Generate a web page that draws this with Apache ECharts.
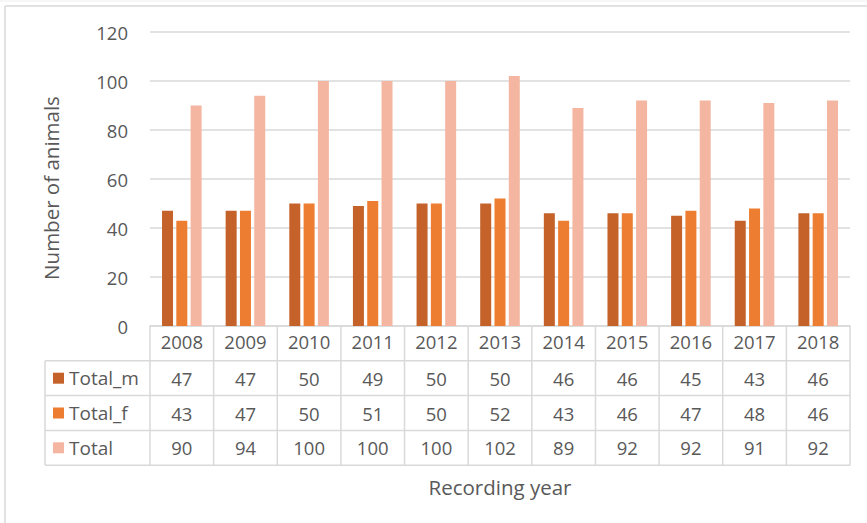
<!DOCTYPE html>
<html>
<head>
<meta charset="utf-8">
<script src="https://cdn.jsdelivr.net/npm/echarts@6/dist/echarts.min.js"></script>
<style>html,body{margin:0;padding:0;background:#fff;}#c{width:867px;height:523px;}</style>
</head>
<body>
<div id="c"></div>
<script>
const years = ['2008','2009','2010','2011','2012','2013','2014','2015','2016','2017','2018'];
const totalM = [47,47,50,49,50,50,46,46,45,43,46];
const totalF = [43,47,50,51,50,52,43,46,47,48,46];
const total  = [90,94,100,100,100,102,89,92,92,91,92];
const seriesNames = ['Total_m','Total_f','Total'];
const yMin = 0, yMax = 120, yStep = 20;
const colors = ['#C5622A','#ED7D31','#F4B6A0'];

const FONT = '"Open Sans", "Noto Sans", sans-serif';
const TXT = '#595959';
const LINE = '#d9d9d9';
const GL = 150, GR = 850, GT = 32, AXY = 326;
const ROWH = 34.8;
const TABLE_L = 45;
const FS = 18.5;

const chart = echarts.init(document.getElementById('c'), null, {renderer:'svg'});

const seriesData = [totalM, totalF, total];
const colW = (GR - GL) / years.length;
const g = [];
// outer frame
g.push({type:'line', shape:{x1:5,y1:6,x2:867,y2:6}, style:{stroke:'#d9d9d9', lineWidth:1.5}, silent:true});
g.push({type:'line', shape:{x1:5,y1:6,x2:5,y2:523}, style:{stroke:'#d9d9d9', lineWidth:1.5}, silent:true});
g.push({type:'line', shape:{x1:0,y1:1,x2:867,y2:1}, style:{stroke:'#efefef', lineWidth:1}, silent:true});
// horizontal table lines
for (let r = 1; r <= 4; r++) {
  const y = AXY + r * ROWH;
  g.push({type:'line', shape:{x1:TABLE_L, y1:y, x2:GR, y2:y}, style:{stroke:LINE, lineWidth:1.5}, silent:true});
}
// vertical lines for year columns
for (let i = 0; i <= years.length; i++) {
  const x = GL + i * colW;
  g.push({type:'line', shape:{x1:x, y1:AXY, x2:x, y2:AXY + 4*ROWH}, style:{stroke:LINE, lineWidth:1.5}, silent:true});
}
g.push({type:'line', shape:{x1:TABLE_L, y1:AXY+ROWH, x2:TABLE_L, y2:AXY + 4*ROWH}, style:{stroke:LINE, lineWidth:1.5}, silent:true});
// rows
seriesNames.forEach((name, r) => {
  const cy = AXY + (r + 1.5) * ROWH;
  g.push({type:'rect', shape:{x:53, y:cy-5.5, width:11, height:11}, style:{fill:colors[r]}, silent:true});
  g.push({type:'text', x:69, y:cy, style:{text:name, fill:TXT, font:'19px ' + FONT, textVerticalAlign:'middle', textAlign:'left'}, silent:true});
  seriesData[r].forEach((v, i) => {
    g.push({type:'text', x:GL + (i + 0.5) * colW, y:cy, style:{text:String(v), fill:TXT, font:FS + 'px ' + FONT, textAlign:'center', textVerticalAlign:'middle'}, silent:true});
  });
});
// axis names
g.push({type:'text', x:(GL+GR)/2, y:487, style:{text:'Recording year', fill:TXT, font:'20.5px ' + FONT, textAlign:'center', textVerticalAlign:'middle'}, silent:true});
g.push({type:'text', x:51, y:188, rotation:Math.PI/2, style:{text:'Number of animals', fill:TXT, font:'20.5px ' + FONT, textAlign:'center', textVerticalAlign:'middle'}, silent:true});

chart.setOption({
  animation:false,
  backgroundColor:'#fff',
  grid:{left:GL, right:867-GR, top:GT, bottom:523-AXY, containLabel:false},
  xAxis:{
    type:'category', data:years,
    axisLine:{show:true, lineStyle:{color:LINE, width:1.5}},
    axisTick:{show:false},
    axisLabel:{color:TXT, fontSize:FS, fontFamily:FONT, margin:6}
  },
  yAxis:{
    type:'value', min:yMin, max:yMax, interval:yStep,
    axisLine:{show:false}, axisTick:{show:false},
    axisLabel:{color:TXT, fontSize:FS, fontFamily:FONT, margin:22},
    splitLine:{lineStyle:{color:LINE, width:1.5}}
  },
  series: seriesNames.map((n, k) => ({
    name:n, type:'bar', data:seriesData[k], barWidth:11, barGap:'30%',
    itemStyle:{color:colors[k]}
  })),
  graphic: g
});
</script>
</body>
</html>
